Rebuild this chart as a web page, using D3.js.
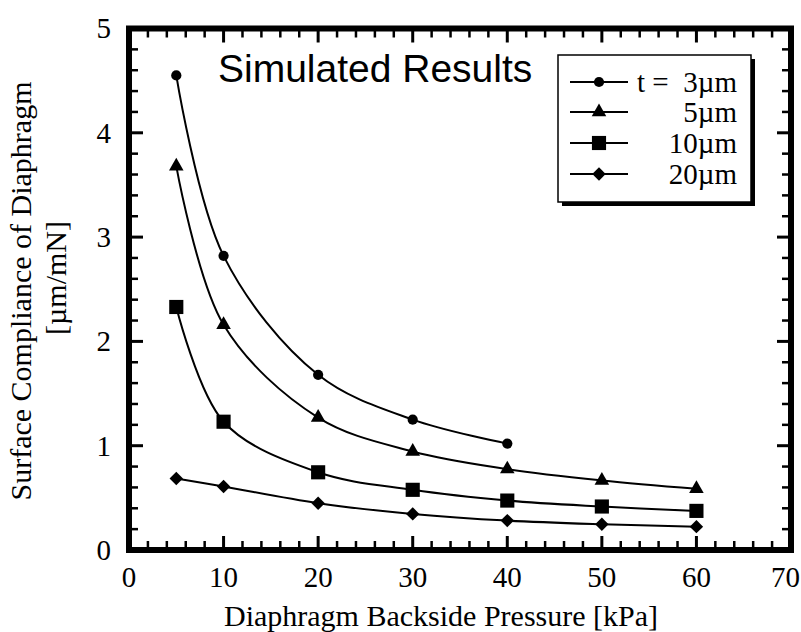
<!DOCTYPE html>
<html>
<head>
<meta charset="utf-8">
<script src="https://cdn.jsdelivr.net/npm/d3@7"></script>
<style>
  body { margin: 0; background: #fff; }
  svg { display: block; }
  .serif { font-family: "Liberation Serif", "Times New Roman", serif; fill: #000; }
</style>
</head>
<body>
<svg id="chart" width="801" height="632"></svg>
<script>
// pressure values [kPa]
const pressure = [5, 10, 20, 30, 40, 50, 60]

// surface compliance [um/mN] per diaphragm thickness
const t3um  = [4.55, 2.82, 1.68, 1.25, 1.02]
const t5um  = [3.68, 2.16, 1.27, 0.945, 0.776, 0.667, 0.587]
const t10um = [2.33, 1.23, 0.745, 0.577, 0.474, 0.417, 0.375]
const t20um = [0.686, 0.609, 0.449, 0.346, 0.282, 0.247, 0.224]

const seriesNames = ["t =  3\u00b5m", "5\u00b5m", "10\u00b5m", "20\u00b5m"]
const seriesShapes = ["circle", "triangle", "square", "diamond"]

const xTicks = [0, 10, 20, 30, 40, 50, 60, 70]
const yTicks = [0, 1, 2, 3, 4, 5]

const svg = d3.select("#chart")

const x = d3.scaleLinear().domain([0, 70]).range([129, 791])
const y = d3.scaleLinear().domain([0, 5]).range([550, 28.5])

const series = [t3um, t5um, t10um, t20um].map((vals, i) => ({
  name: seriesNames[i],
  shape: seriesShapes[i],
  points: vals.map((v, j) => ({ p: pressure[j], c: v }))
}))

// marker generators
function markerPath(shape) {
  if (shape == "circle") return d3.symbol(d3.symbolCircle, 82)()
  if (shape == "triangle") return d3.symbol(d3.symbolTriangle, 92)()
  if (shape == "square") return d3.symbol(d3.symbolSquare, 200)()
  return d3.symbol(d3.symbolSquare, 90)()
}
function markerRotate(shape) {
  return shape == "diamond" ? " rotate(45)" : ""
}

// curves
const line = d3.line()
  .x(d => x(d.p))
  .y(d => y(d.c))
  .curve(d3.curveCatmullRom.alpha(0.5))

const plot = svg.append("g")

plot.selectAll("path.curve")
  .data(series)
  .enter()
  .append("path")
  .attr("class", "curve")
  .attr("d", d => line(d.points))
  .attr("fill", "none")
  .attr("stroke", "#000")
  .attr("stroke-width", 2)

series.forEach(s => {
  plot.selectAll(null)
    .data(s.points)
    .enter()
    .append("path")
    .attr("d", markerPath(s.shape))
    .attr("transform", d => "translate(" + x(d.p) + "," + y(d.c) + ")" + markerRotate(s.shape))
    .attr("fill", "#000")
})

// axes: frame with inward ticks on all four sides
const frame = svg.append("g")
const axW = 6

function drawTicks(vals, len, w) {
  vals.forEach(v => {
    // bottom & top
    frame.append("line").attr("x1", x(v)).attr("x2", x(v))
      .attr("y1", y(0)).attr("y2", y(0) - len).attr("stroke", "#000").attr("stroke-width", w)
    frame.append("line").attr("x1", x(v)).attr("x2", x(v))
      .attr("y1", y(5)).attr("y2", y(5) + len).attr("stroke", "#000").attr("stroke-width", w)
  })
}
function drawYTicks(vals, len, w) {
  vals.forEach(v => {
    frame.append("line").attr("x1", x(0)).attr("x2", x(0) + len)
      .attr("y1", y(v)).attr("y2", y(v)).attr("stroke", "#000").attr("stroke-width", w)
    frame.append("line").attr("x1", x(70)).attr("x2", x(70) - len)
      .attr("y1", y(v)).attr("y2", y(v)).attr("stroke", "#000").attr("stroke-width", w)
  })
}
drawTicks(d3.range(0, 71, 2).filter(v => v % 10 != 0), 9, 2.5)
drawTicks(xTicks, 14, 3)
drawYTicks(d3.range(0, 5.01, 0.2).filter(v => Math.abs(v - Math.round(v)) > 0.01), 9, 2.5)
drawYTicks(yTicks, 14, 3)

frame.append("rect")
  .attr("x", x(0)).attr("y", y(5))
  .attr("width", x(70) - x(0)).attr("height", y(0) - y(5))
  .attr("fill", "none")
  .attr("stroke", "#000")
  .attr("stroke-width", axW)

// tick labels (last one kept inside the page edge)
svg.selectAll("text.xt")
  .data(xTicks)
  .enter()
  .append("text")
  .attr("class", "xt serif")
  .attr("x", d => d == 70 ? 800 : x(d))
  .attr("y", 587)
  .attr("text-anchor", d => d == 70 ? "end" : "middle")
  .style("font-size", "29px")
  .text(d => d)

svg.selectAll("text.yt")
  .data(yTicks)
  .enter()
  .append("text")
  .attr("class", "yt serif")
  .attr("x", 111)
  .attr("y", d => y(d))
  .attr("dy", "0.34em")
  .attr("text-anchor", "end")
  .style("font-size", "29px")
  .text(d => d)

// axis titles
svg.append("text")
  .attr("class", "serif")
  .attr("x", 441)
  .attr("y", 626)
  .attr("text-anchor", "middle")
  .style("font-size", "30px")
  .text("Diaphragm Backside Pressure [kPa]")

svg.append("text")
  .attr("class", "serif")
  .attr("transform", "translate(31,291) rotate(-90)")
  .attr("text-anchor", "middle")
  .style("font-size", "30px")
  .text("Surface Compliance of Diaphragm")

svg.append("text")
  .attr("class", "serif")
  .attr("transform", "translate(66,278) rotate(-90)")
  .attr("text-anchor", "middle")
  .style("font-size", "30px")
  .text("[\u00b5m/mN]")

// annotation
svg.append("text")
  .attr("x", 218)
  .attr("y", 82)
  .style("font-family", "'Liberation Sans', Arial, sans-serif")
  .style("font-size", "39px")
  .text("Simulated Results")

// legend
const legend = svg.append("g")
legend.append("rect")
  .attr("x", 562).attr("y", 59)
  .attr("width", 193).attr("height", 147)
  .attr("fill", "#000")
legend.append("rect")
  .attr("x", 558).attr("y", 55)
  .attr("width", 193).attr("height", 147)
  .attr("fill", "#fff")
  .attr("stroke", "#000")
  .attr("stroke-width", 1.5)

const rowY = [82, 112, 143, 174]
series.forEach((s, i) => {
  legend.append("line")
    .attr("x1", 570).attr("x2", 628)
    .attr("y1", rowY[i]).attr("y2", rowY[i])
    .attr("stroke", "#000").attr("stroke-width", 2)
  legend.append("path")
    .attr("d", markerPath(s.shape))
    .attr("transform", "translate(599," + rowY[i] + ")" + markerRotate(s.shape))
    .attr("fill", "#000")
  legend.append("text")
    .attr("class", "serif")
    .attr("x", 737)
    .attr("y", rowY[i])
    .attr("dy", "0.35em")
    .attr("text-anchor", "end")
    .style("font-size", "29px")
    .style("white-space", "pre")
    .text(s.name)
})
</script>
</body>
</html>
